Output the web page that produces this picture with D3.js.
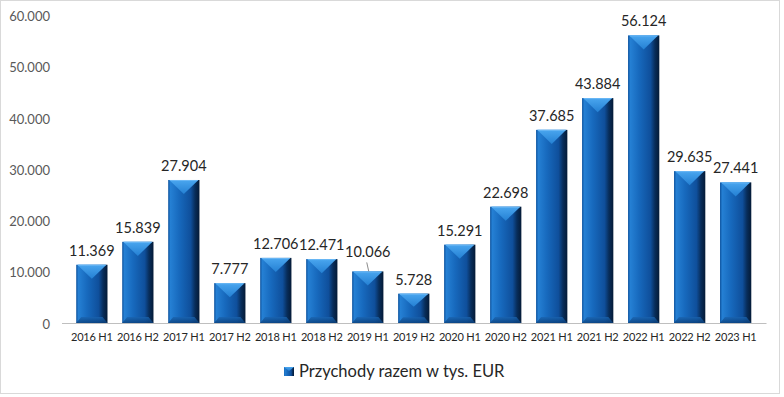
<!DOCTYPE html>
<html>
<head>
<meta charset="utf-8">
<script src="https://cdn.jsdelivr.net/npm/d3@7"></script>
<style>
  body { margin: 0; background: #fff; }
  svg { display: block; font-family: Lato, "Open Sans", sans-serif; }
</style>
</head>
<body>
<svg id="chart" width="784" height="397"></svg>
<script>
// periods and revenue (thousand EUR)
const periods = ["2016 H1", "2016 H2", "2017 H1", "2017 H2", "2018 H1", "2018 H2", "2019 H1", "2019 H2",
  "2020 H1", "2020 H2", "2021 H1", "2021 H2", "2022 H1", "2022 H2", "2023 H1"];
const revenue = [11369, 15839, 27904, 7777, 12706, 12471, 10066, 5728,
  15291, 22698, 37685, 43884, 56124, 29635, 27441];
const yTicks = [0, 10000, 20000, 30000, 40000, 50000, 60000];
const seriesName = "Przychody razem w tys. EUR";

const fmtTick = v => v === 0 ? "0" : (v / 1000) + ".000";
const fmtVal = v => Math.floor(v / 1000) + "." + String(v % 1000).padStart(3, "0");

const svg = d3.select("#chart");

// frame
svg.append("rect").attr("x", 0.5).attr("y", 0.5).attr("width", 779).attr("height", 393)
  .attr("fill", "#fff").attr("stroke", "#d9d9d9");

const x = d3.scaleBand().domain(periods).range([61.5, 766]).padding(0.32);
const y = d3.scaleLinear().domain([0, 60000]).range([323, 15.5]);

const defs = svg.append("defs");
const body = defs.append("linearGradient").attr("id", "bodyGrad").attr("x1", 0).attr("x2", 1).attr("y1", 0).attr("y2", 0);
[[0, "#0c519c"], [0.07, "#2580d4"], [0.35, "#1769bd"], [0.72, "#0f4f9b"], [0.86, "#082d5a"], [1, "#041a36"]]
  .forEach(s => body.append("stop").attr("offset", s[0]).attr("stop-color", s[1]));
const topG = defs.append("linearGradient").attr("id", "topGrad").attr("x1", 0).attr("x2", 0).attr("y1", 0).attr("y2", 1);
[[0, "#4aa6ef"], [1, "#2480d3"]].forEach(s => topG.append("stop").attr("offset", s[0]).attr("stop-color", s[1]));
const botG = defs.append("linearGradient").attr("id", "botGrad").attr("x1", 0).attr("x2", 0).attr("y1", 0).attr("y2", 1);
[[0, "#1a64b0"], [1, "#0a3f7a"]].forEach(s => botG.append("stop").attr("offset", s[0]).attr("stop-color", s[1]));

// y axis labels (no line)
const yAxis = svg.append("g").attr("transform", "translate(50,0)")
  .call(d3.axisLeft(y).tickValues(yTicks).tickFormat(fmtTick).tickSize(0).tickPadding(0));
yAxis.select(".domain").remove();
yAxis.selectAll("text").attr("fill", "#595959").attr("font-size", 13).attr("font-family", "Lato, sans-serif")
  .attr("dy", "0.4em");

// x axis
const xAxis = svg.append("g").attr("transform", "translate(0,323)")
  .call(d3.axisBottom(x).tickSize(0).tickPadding(10));
xAxis.select(".domain").attr("stroke", "#bfbfbf").attr("stroke-width", 1.2);
xAxis.selectAll("text").attr("fill", "#262626").attr("font-size", 11).attr("font-family", "Lato, sans-serif")
  .attr("letter-spacing", -0.2);

const data = periods.map((p, i) => ({ p, v: revenue[i] }));
const bars = svg.append("g").selectAll("g").data(data).join("g");

bars.each(function (d) {
  const g = d3.select(this);
  const x0 = x(d.p), w = x.bandwidth(), y0 = y(d.v), h = y(0) - y0;
  g.append("rect").attr("x", x0).attr("y", y0).attr("width", w).attr("height", h).attr("fill", "url(#bodyGrad)");
  const tip = Math.min(w * 0.45, h * 0.45);
  g.append("path").attr("d", `M${x0 + 1},${y0}L${x0 + w - 1},${y0}L${x0 + w / 2},${y0 + tip}Z`).attr("fill", "url(#topGrad)");
  g.append("path").attr("d", `M${x0 + 2},${y0 + 0.5}L${x0 + w - 2},${y0 + 0.5}`).attr("stroke", "#6bb8f5").attr("stroke-width", 1);
  const bh = Math.min(6, h * 0.2);
  g.append("path").attr("d", `M${x0},${y(0)}L${x0 + w},${y(0)}L${x0 + w - 5},${y(0) - bh}L${x0 + 5},${y(0) - bh}Z`)
    .attr("fill", "url(#botGrad)").attr("opacity", 0.8);
});

// value labels; 2019 H1 label is lifted with a leader line
const lifted = { "2019 H1": 5 };
bars.append("text")
  .attr("x", d => x(d.p) + x.bandwidth() / 2)
  .attr("y", d => y(d.v) - 9 - (lifted[d.p] || 0))
  .attr("text-anchor", "middle").attr("fill", "#262626").attr("font-size", 14.5)
  .text(d => fmtVal(d.v));
bars.filter(d => lifted[d.p]).append("line")
  .attr("x1", d => x(d.p) + x.bandwidth() / 2 - 1).attr("x2", d => x(d.p) + x.bandwidth() / 2 + 1)
  .attr("y1", d => y(d.v) - 9).attr("y2", d => y(d.v))
  .attr("stroke", "#8c8c8c").attr("stroke-width", 1);

// legend
const lg = svg.append("g").attr("transform", "translate(284,367)");
lg.append("rect").attr("width", 10).attr("height", 9).attr("fill", "url(#bodyGrad)");
lg.append("path").attr("d", "M0,0L10,0L5,4Z").attr("fill", "url(#topGrad)");
lg.append("text").attr("x", 15).attr("y", 10).attr("font-size", 16.5).attr("fill", "#262626").text(seriesName);
</script>
</body>
</html>
